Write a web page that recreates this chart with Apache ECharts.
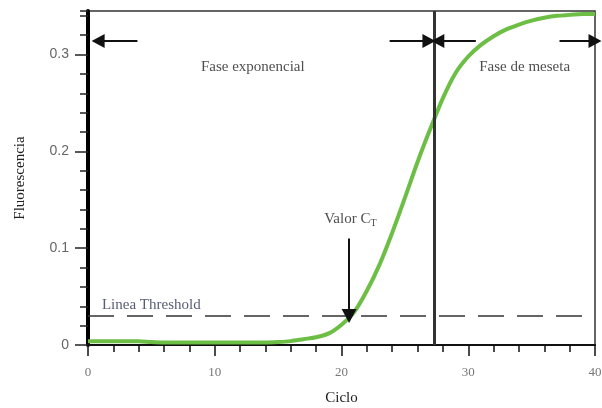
<!DOCTYPE html>
<html>
<head>
<meta charset="utf-8">
<script src="https://cdn.jsdelivr.net/npm/echarts@6/dist/echarts.min.js"></script>
<style>
html,body{margin:0;padding:0;background:#fff;}
#chart{width:602px;height:408px;}
</style>
</head>
<body>
<div id="chart"></div>
<script>
// ---- data ----
const cycles = [0,1,2,3,4,5,6,7,8,9,10,11,12,13,14,15,16,17,18,19,20,21,22,23,24,25,26,27,28,29,30,31,32,33,34,35,36,37,38,39,40];
const fluorescence = [0.004,0.004,0.004,0.004,0.004,0.003,0.0025,0.0025,0.0025,0.0025,0.0025,0.0025,0.0025,0.0025,0.0025,0.003,0.004,0.006,0.008,0.012,0.021,0.034,0.056,0.083,0.116,0.152,0.189,0.223,0.255,0.281,0.298,0.310,0.319,0.326,0.331,0.335,0.338,0.340,0.341,0.342,0.342];
const xTickLabels = ['0','10','20','30','40'];
const yTickLabels = ['0','0.1','0.2','0.3'];
const thresholdValue = 0.028;
const ctDivider = 27.3;
const ctCycle = 20.6;

// annotation anchors in data units
const phaseArrows = [
  [[3.9,0.314],[0.8,0.314]],
  [[23.8,0.314],[26.9,0.314]],
  [[30.6,0.314],[27.6,0.314]],
  [[37.2,0.314],[40,0.314]]
];
const ctArrow = [[ctCycle,0.110],[ctCycle,0.030]];
const labels = [
  {pos:[13.0,0.287], text:'Fase exponencial', align:'center'},
  {pos:[34.45,0.287], text:'Fase de meseta', align:'center'},
  {pos:[1.1,0.041], text:'Linea Threshold', align:'left', color:'#2b3552'},
  {pos:[20.7,0.130], text:'{a|Valor C}{s|T}', align:'center'}
];

const serif = '"Liberation Serif", "DejaVu Serif", serif';
const chart = echarts.init(document.getElementById('chart'));

const arrowLines = phaseArrows.map(a => [
  {coord:a[0], symbol:'none'},
  {coord:a[1], symbol:'triangle', symbolSize:[14,13]}
]);
arrowLines.push([
  {coord:ctArrow[0], symbol:'none'},
  {coord:ctArrow[1], symbol:'triangle', symbolSize:[15,14]}
]);

chart.setOption({
  animation:false,
  backgroundColor:'#fff',
  grid:{left:88, right:7, top:11, bottom:63, outerBoundsMode:'none', containLabel:false,
        show:true, borderColor:'#333', borderWidth:1.5, backgroundColor:'transparent'},
  xAxis:[
    {type:'value', min:0, max:40, interval:10, position:'bottom',
     name:'Ciclo', nameLocation:'middle', nameGap:46,
     nameTextStyle:{fontFamily:serif, fontSize:15, color:'#222'},
     axisLine:{show:true, onZero:false, lineStyle:{color:'#111', width:2}},
     axisTick:{show:true, inside:false, length:11, lineStyle:{color:'#111', width:1.5}},
     axisLabel:{margin:21, fontFamily:serif, fontSize:13, color:'#777',
       formatter:(v)=>{const i=Math.round(v/10); return xTickLabels[i]!==undefined && v%10===0 ? xTickLabels[i] : '';}},
     splitLine:{show:false}},
    {type:'value', min:0, max:40, interval:2, position:'bottom', gridIndex:0,
     axisLine:{show:false, onZero:false},
     axisTick:{show:true, inside:false, length:7, lineStyle:{color:'#111', width:1.5}},
     axisLabel:{show:false}, splitLine:{show:false}}
  ],
  yAxis:[
    {type:'value', min:0, max:0.345, interval:0.1, position:'left',
     name:'Fluorescencia', nameLocation:'middle', nameGap:60, nameRotate:90,
     nameTextStyle:{fontFamily:serif, fontSize:15, color:'#222'},
     axisLine:{show:true, onZero:false, lineStyle:{color:'#000', width:4}},
     axisTick:{show:true, inside:false, length:13, lineStyle:{color:'#222', width:1.5}},
     axisLabel:{margin:19, showMaxLabel:false, fontFamily:'"Liberation Sans", Arial, sans-serif', fontSize:14, color:'#666',
       formatter:(v)=>{const i=Math.round(v*10); return Math.abs(v*10-i)<1e-6 && yTickLabels[i]!==undefined ? yTickLabels[i] : '';}},
     splitLine:{show:false}},
    {type:'value', min:0, max:0.345, interval:0.02, position:'left',
     axisLine:{show:false, onZero:false},
     axisTick:{show:true, inside:false, length:8, lineStyle:{color:'#222', width:1.5}},
     axisLabel:{show:false}, splitLine:{show:false}}
  ],
  series:[
    {type:'line', xAxisIndex:0, yAxisIndex:0,
     data:cycles.map((c,i)=>[c,fluorescence[i]]),
     showSymbol:false, smooth:0.3,
     lineStyle:{color:'#6dbe45', width:4},
     z:3,
     markLine:{
       silent:true, animation:false, symbol:'none',
       label:{show:false},
       data:[
         {xAxis:ctDivider, lineStyle:{color:'#333', width:3, type:'solid'}},
         {yAxis:thresholdValue, lineStyle:{color:'#333', width:1.5, type:[26,13]}}
       ]
     }
    },
    {type:'line', xAxisIndex:0, yAxisIndex:0, data:[], silent:true,
     markLine:{
       silent:true, animation:false, label:{show:false},
       lineStyle:{color:'#111', width:2, type:'solid'},
       data:arrowLines
     }
    },
    {type:'scatter', xAxisIndex:0, yAxisIndex:0, symbolSize:0, silent:true, z:5,
     data:labels.map(l=>({value:l.pos,
       label:{show:true, position:'inside', formatter:l.text, align:l.align,
         color:l.color||'#222', fontFamily:serif, fontSize:15,
         rich:{a:{fontFamily:serif, fontSize:15, color:'#222'}, s:{fontFamily:serif, fontSize:10, color:'#222', padding:[9,0,0,0]}}}}))
    }
  ]
});
</script>
</body>
</html>
